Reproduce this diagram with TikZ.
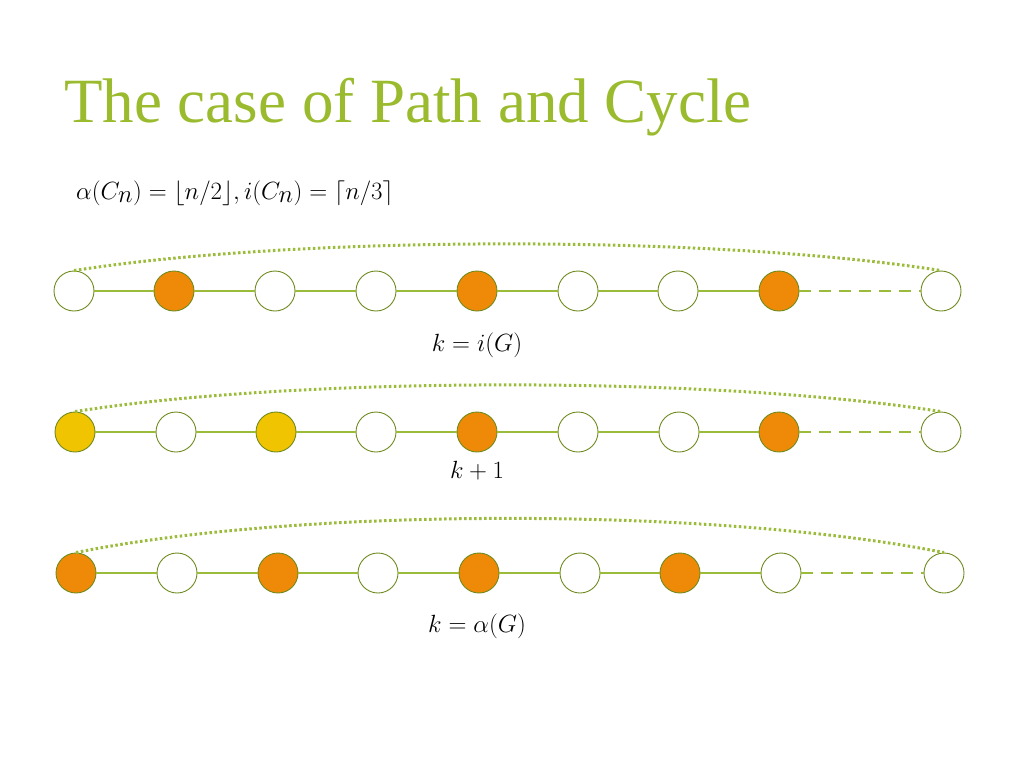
\documentclass[tikz,border=0pt]{standalone}
\usepackage{fontspec}
\setmainfont{Liberation Serif}
\usepackage{amsmath}
\definecolor{tgreen}{HTML}{9BBB2F}
\definecolor{lgreen}{HTML}{9BBB3B}
\definecolor{ring}{HTML}{6E8A1E}
\definecolor{orn}{HTML}{EE8A08}
\definecolor{yel}{HTML}{F0C400}
\tikzset{v/.style={circle,draw=ring,line width=0.9pt,fill=white,minimum size=40pt,inner sep=0pt},
 o/.style={v,fill=orn}, ye/.style={v,fill=yel},
 ed/.style={lgreen,line width=2.6pt},
 dd/.style={lgreen,line width=2.6pt,dash pattern=on 12pt off 8pt},
 dt/.style={lgreen,line width=3pt,dash pattern=on 2.5pt off 2.5pt}}
\begin{document}
\begin{tikzpicture}[x=1pt,y=-1pt]
\useasboundingbox (0,0) rectangle (1024,768);
\node[anchor=base west,text=tgreen,font=\fontsize{63}{66}\selectfont,inner sep=0] (title) at (64,122) {The case of Path and Cycle};
\node[anchor=base west,font=\fontsize{33}{36}\selectfont,inner sep=0] (f) at (76,199) {$\alpha(C_n)=\lfloor n/2\rfloor, i(C_n)=\lceil n/3\rceil$};
% row 1
\foreach \n/\x/\s in {1/74/v,2/174/o,3/275/v,4/376/v,5/477/o,6/578/v,7/678/v,8/779/o,9/941/v}
  \node[\s] (a\n) at (\x,291) {};
\foreach \i/\j in {1/2,2/3,3/4,4/5,5/6,6/7,7/8} \draw[ed] (a\i)--(a\j);
\draw[dd] (a8)--(a9);
\draw[dt] (a1.north) .. controls (300,235) and (715,235) .. (a9.north);
\node[font=\fontsize{25}{28}\selectfont] (l1) at (477,345) {$k=i(G)$};
% row 2
\foreach \n/\x/\s in {1/75/ye,2/176/v,3/276/ye,4/376/v,5/477/o,6/578/v,7/679/v,8/779/o,9/941/v}
  \node[\s] (b\n) at (\x,432) {};
\foreach \i/\j in {1/2,2/3,3/4,4/5,5/6,6/7,7/8} \draw[ed] (b\i)--(b\j);
\draw[dd] (b8)--(b9);
\draw[dt] (b1.north) .. controls (300,376) and (715,376) .. (b9.north);
\node[font=\fontsize{25}{28}\selectfont] (l2) at (477,471) {$k+1$};
% row 3
\foreach \n/\x/\s in {1/76/o,2/177/v,3/278/o,4/378/v,5/479/o,6/580/v,7/680/o,8/781/v,9/944/v}
  \node[\s] (c\n) at (\x,573) {};
\foreach \i/\j in {1/2,2/3,3/4,4/5,5/6,6/7,7/8} \draw[ed] (c\i)--(c\j);
\draw[dd] (c8)--(c9);
\draw[dt] (c1.north) .. controls (300,507) and (715,507) .. (c9.north);
\node[font=\fontsize{25}{28}\selectfont] (l3) at (477,626) {$k=\alpha(G)$};
\end{tikzpicture}
\end{document}
